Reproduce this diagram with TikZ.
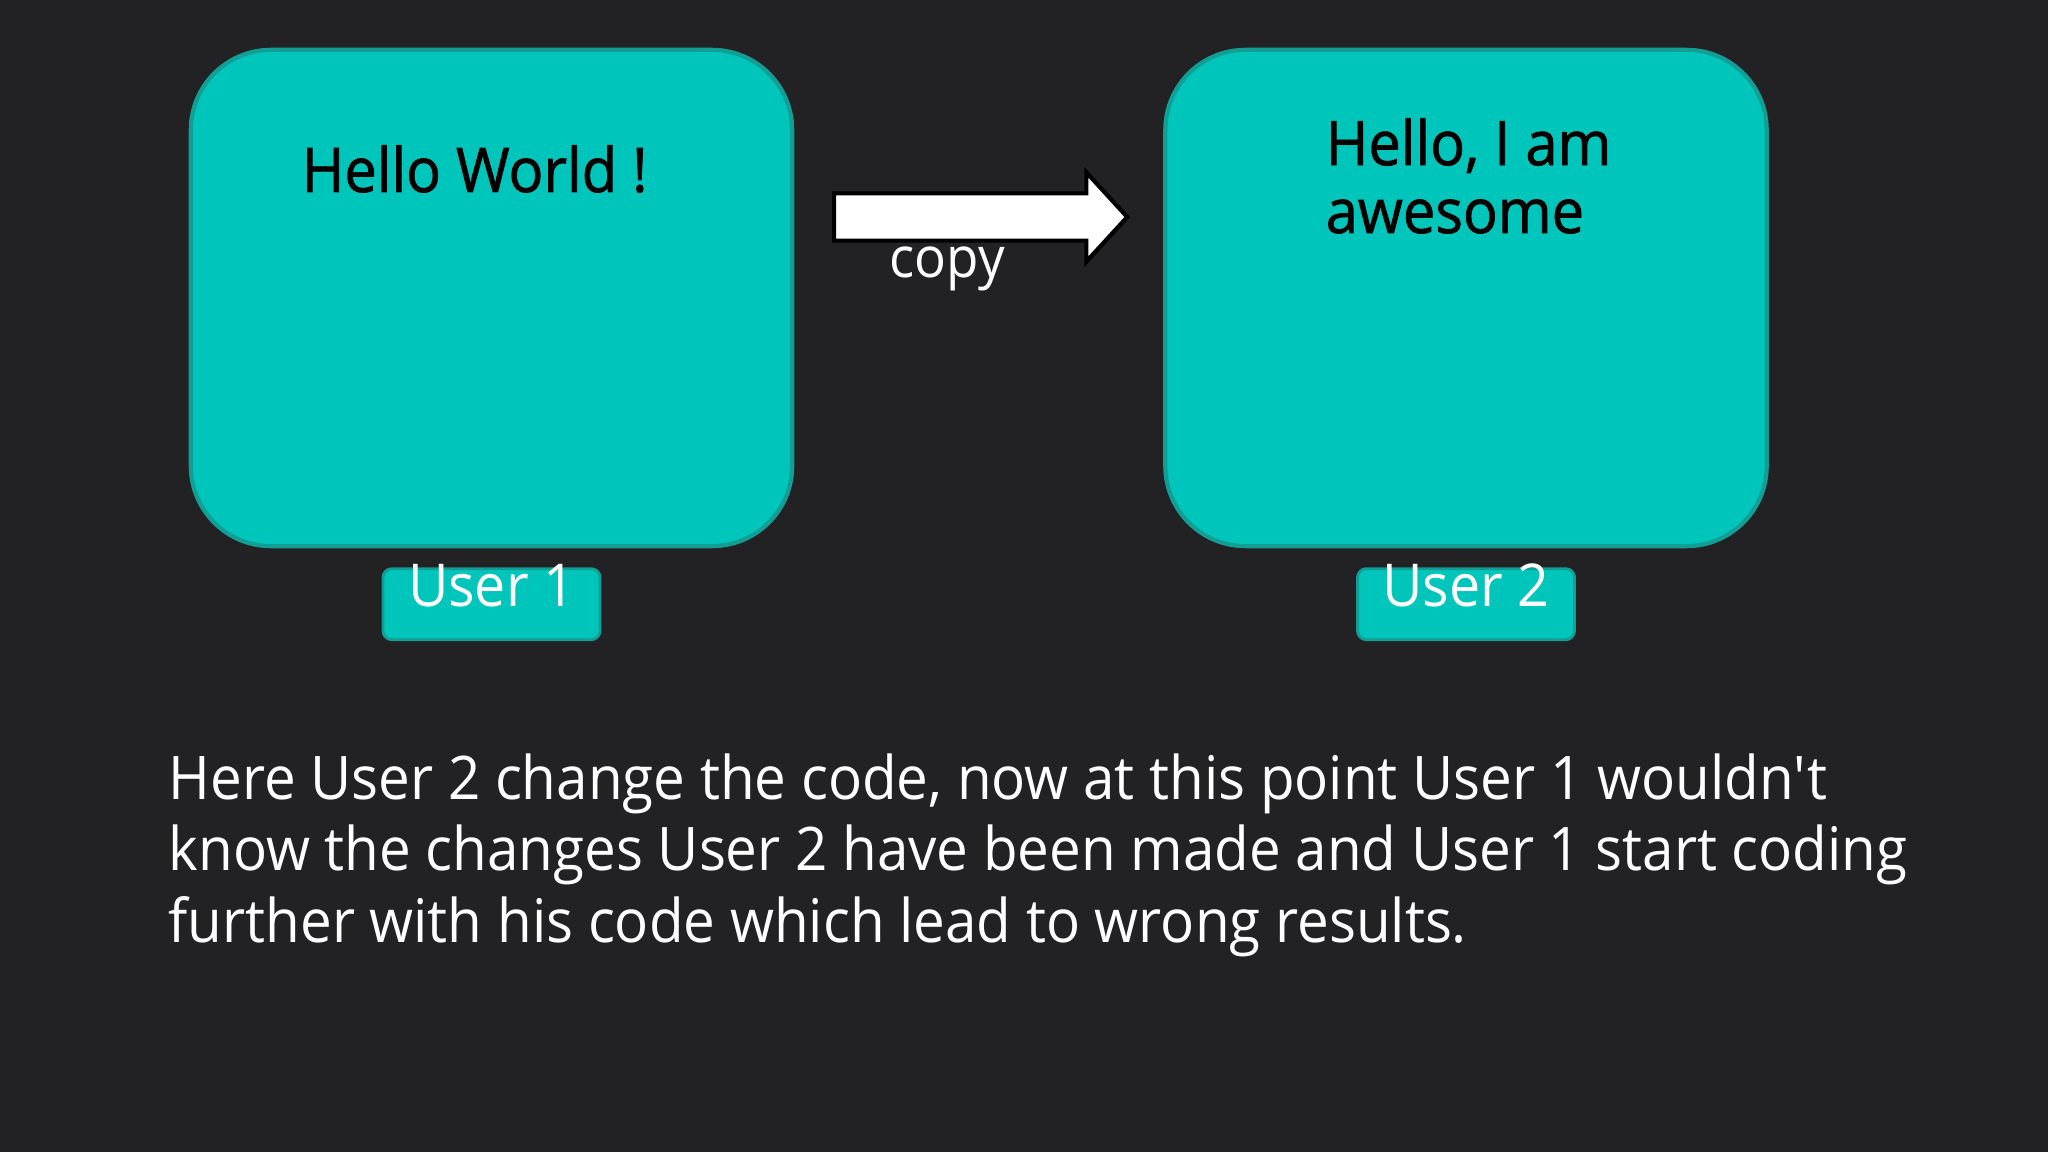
\documentclass[tikz,border=0pt]{standalone}
\usepackage{fontspec}
\setmainfont{Open Sans}[FakeStretch=0.94]
\newfontfamily\heavyish{Open Sans}[FakeStretch=0.94,FakeBold=1.2]
\usetikzlibrary{positioning,shapes.arrows}
\definecolor{slidebg}{RGB}{34,33,35}
\definecolor{tealfill}{RGB}{0,197,186}
\definecolor{tealline}{RGB}{18,158,148}
\tikzset{%
  code box/.style={
    draw=tealline,
    fill=tealfill,
    line width=1.2pt,
    rounded corners=0.8cm,
    minimum width=6.01cm,
    minimum height=4.96cm
  },
  user box/.style={
    draw=tealline,
    fill=tealfill,
    line width=0.8pt,
    rounded corners=0.09cm,
    minimum width=2.17cm,
    minimum height=0.71cm,
    inner sep=0pt,
    text height=0.37cm,
    text depth=0.32cm,
    text=white,
    font=\fontsize{16.8}{20}\selectfont
  },
}

\begin{document}
\begin{tikzpicture}[x=0.01cm,y=-0.01cm]
      \tikzstyle{code text}=[anchor=base west,inner sep=0pt,align=left,font=\heavyish\fontsize{17.5}{19.3}\selectfont]

      \fill[slidebg] (0,0) rectangle (2048,1152);
      \useasboundingbox (0,0) rectangle (2048,1152);

      \node[code box] (user1code) at (491.5,298) {};
      \node[code box] (user2code) at (1466,298) {};

      \node[user box,below=0.19cm of user1code] (user1label) {User 1};
      \node[user box,below=0.19cm of user2code] (user2label) {User 2};

      \node[code text] (hello1) at (301,192) {Hello World !};
      \node[code text] (hello2) at (1325,233) {Hello, I am\\awesome};

      % block arrow between the two boxes
      \node[single arrow,draw=black,fill=white,line width=1.2pt,
            minimum height=2.93cm,minimum width=0.85cm,
            single arrow head extend=0.21cm,single arrow tip angle=95,
            inner sep=0pt,text height=0.43cm,text depth=0cm,
            anchor=tail] (copyarrow) at (832,217) {};
      \node[anchor=base west,inner sep=0pt,text=white,
            font=\fontsize{16}{18}\selectfont] (copylabel) at (889,278) {copy};

      \node[anchor=base west,inner sep=0pt,align=left,text=white,
            font=\fontsize{17.1}{20.2}\selectfont] (note) at (168,942)
        {Here User 2 change the code, now at this point User 1 wouldn\textquotesingle t\\
         know the changes User 2 have been made and User 1 start coding\\
         further with his code which lead to wrong results.};
  \end{tikzpicture}
\end{document}
